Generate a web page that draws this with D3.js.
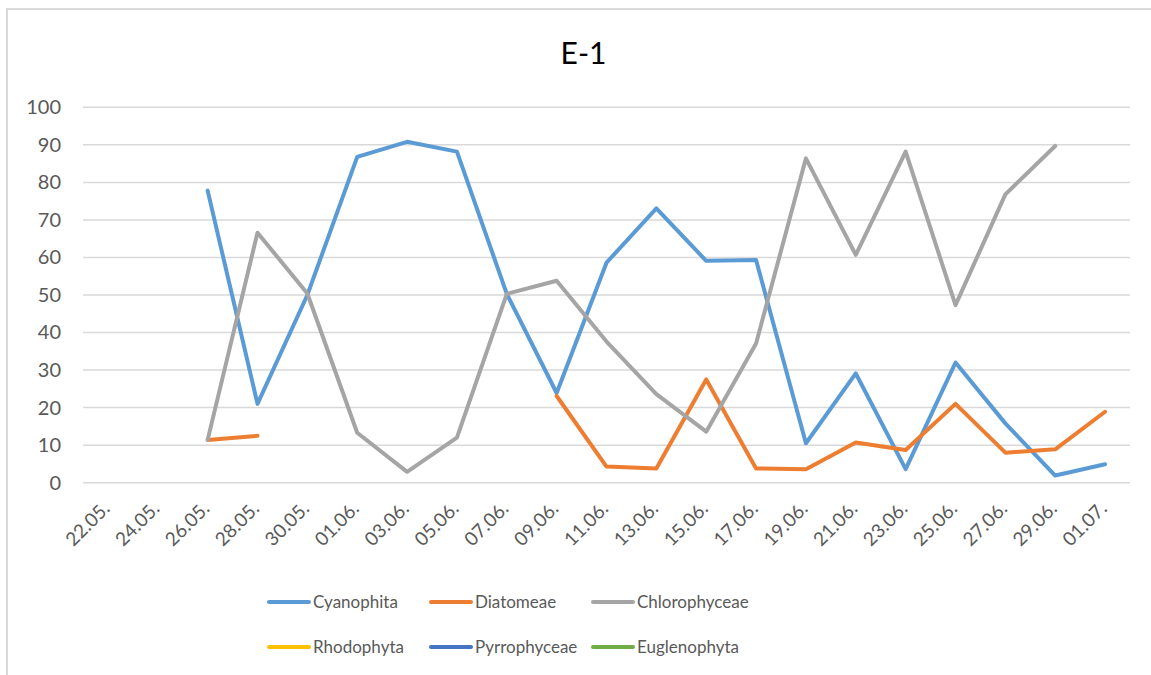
<!DOCTYPE html>
<html>
<head>
<meta charset="utf-8">
<script src="https://cdn.jsdelivr.net/npm/d3@7"></script>
<style>
  html, body { margin: 0; padding: 0; background: #fff; }
  svg { display: block; font-family: Lato, "Open Sans", sans-serif; }
</style>
</head>
<body>
<svg id="chart" width="1151" height="675"></svg>
<script>
// categories (dates) and series values
const dates = ["22.05.", "24.05.", "26.05.", "28.05.", "30.05.", "01.06.", "03.06.",
  "05.06.", "07.06.", "09.06.", "11.06.", "13.06.", "15.06.", "17.06.", "19.06.",
  "21.06.", "23.06.", "25.06.", "27.06.", "29.06.", "01.07."];

const cyanophita = [null, null, 77.8, 21.0, 50.0, 86.8, 90.8, 88.2, 50.3, 23.9, 58.6,
  73.1, 59.1, 59.3, 10.5, 29.1, 3.6, 32.0, 15.8, 1.9, 4.9];
const diatomeae = [null, null, 11.4, 12.5, null, null, null, null, null, 23.1, 4.3,
  3.8, 27.5, 3.8, 3.6, 10.7, 8.7, 21.0, 8.0, 8.9, 18.9];
const chlorophyceae = [null, null, 11.4, 66.6, 50.4, 13.3, 2.9, 12.0, 50.3, 53.8, 37.6,
  23.6, 13.6, 37.1, 86.4, 60.7, 88.2, 47.3, 76.8, 89.7, null];
const rhodophyta = dates.map(() => null);
const pyrrophyceae = dates.map(() => null);
const euglenophyta = dates.map(() => null);

const seriesNames = ["Cyanophita", "Diatomeae", "Chlorophyceae",
  "Rhodophyta", "Pyrrophyceae", "Euglenophyta"];
const seriesColors = ["#5b9bd5", "#ed7d31", "#a5a5a5", "#ffc000", "#4472c4", "#70ad47"];
const yTicks = [0, 10, 20, 30, 40, 50, 60, 70, 80, 90, 100];

const series = [cyanophita, diatomeae, chlorophyceae, rhodophyta, pyrrophyceae, euglenophyta]
  .map((values, i) => ({ name: seriesNames[i], color: seriesColors[i], values }));

const svg = d3.select("#chart");

// chart frame (only top/left edges show in the crop)
svg.append("rect")
  .attr("x", 7).attr("y", 9)
  .attr("width", 1200).attr("height", 700)
  .attr("fill", "none")
  .attr("stroke", "#d9d9d9")
  .attr("stroke-width", 2);

const x = d3.scaleBand().domain(dates).range([83, 1130]).padding(0);
const y = d3.scaleLinear().domain([0, 100]).range([482.7, 107.3]);
const cx = (d) => x(d) + x.bandwidth() / 2;

// gridlines
svg.append("g")
  .selectAll("line")
  .data(yTicks)
  .join("line")
  .attr("x1", 83).attr("x2", 1130)
  .attr("y1", (d) => y(d)).attr("y2", (d) => y(d))
  .attr("stroke", "#d9d9d9")
  .attr("stroke-width", 1.5);

// y axis labels
const yAxis = svg.append("g")
  .attr("transform", "translate(69,0)")
  .call(d3.axisLeft(y).tickValues(yTicks).tickSize(0).tickPadding(8));
yAxis.select(".domain").remove();
yAxis.selectAll("text")
  .attr("fill", "#595959")
  .style("font-size", "20px")
  .style("font-family", "Lato, sans-serif");

// x axis labels, rotated
const xAxis = svg.append("g")
  .attr("transform", `translate(0,${y(0)})`)
  .call(d3.axisBottom(x).tickSize(0).tickPadding(0));
xAxis.select(".domain").remove();
xAxis.selectAll("text")
  .attr("fill", "#595959")
  .style("font-size", "19px")
  .style("font-family", "Lato, sans-serif")
  .attr("text-anchor", "end")
  .attr("dy", null)
  .attr("y", null)
  .attr("transform", "translate(3,27) rotate(-45)");

// lines
const line = d3.line()
  .defined((d) => d != null)
  .x((d, i) => cx(dates[i]))
  .y((d) => y(d));

svg.append("g")
  .selectAll("path")
  .data(series)
  .join("path")
  .attr("d", (s) => line(s.values))
  .attr("fill", "none")
  .attr("stroke", (s) => s.color)
  .attr("stroke-width", 4)
  .attr("stroke-linejoin", "round")
  .attr("stroke-linecap", "round");

// title
svg.append("text")
  .attr("x", 583.5).attr("y", 64)
  .attr("text-anchor", "middle")
  .attr("fill", "#000")
  .style("font-size", "30px")
  .text("E-1");

// legend, 3 columns x 2 rows
const legendCols = [268, 430, 592];
const legendRows = [602, 647];
const legend = svg.append("g")
  .selectAll("g")
  .data(series)
  .join("g")
  .attr("transform", (s, i) => `translate(${legendCols[i % 3]},${legendRows[Math.floor(i / 3)]})`);

legend.append("line")
  .attr("x1", 1).attr("x2", 41)
  .attr("stroke", (s) => s.color)
  .attr("stroke-width", 4)
  .attr("stroke-linecap", "round");

legend.append("text")
  .attr("x", 45).attr("dy", "0.36em")
  .attr("fill", "#595959")
  .style("font-size", "17px")
  .text((s) => s.name);
</script>
</body>
</html>
